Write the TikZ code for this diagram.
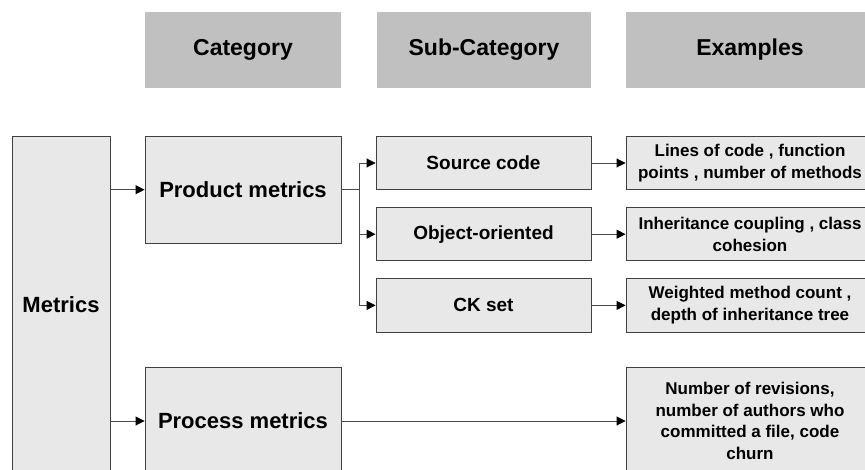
\documentclass[tikz,border=0pt]{standalone}
\usepackage{fontspec}
\setmainfont{Liberation Sans}
\usetikzlibrary{arrows.meta}
\definecolor{hdrfill}{HTML}{C0C0C0}
\definecolor{boxfill}{HTML}{E8E8E8}
\definecolor{boxline}{HTML}{404040}
\definecolor{conn}{HTML}{4A4A4A}
\tikzset{
  hdr/.style={fill=hdrfill, draw=none, inner sep=0pt, minimum height=76pt,
    font=\fontsize{23}{27}\selectfont\bfseries},
  catbox/.style={fill=boxfill, draw=boxline, line width=0.9pt, inner sep=0pt,
    font=\fontsize{22}{26}\selectfont\bfseries},
  subbox/.style={fill=boxfill, draw=boxline, line width=0.9pt, inner sep=0pt,
    minimum width=215pt, minimum height=53.5pt,
    font=\fontsize{19}{22}\selectfont\bfseries},
  exbox/.style={fill=boxfill, draw=boxline, line width=0.9pt, inner sep=0pt,
    minimum width=248pt, align=center,
    font=\fontsize{17}{21.7}\selectfont\bfseries},
  conn/.style={draw=conn, line width=0.9pt,
    -{Triangle[length=9pt,width=9pt,color=black]}},
  plain/.style={draw=conn, line width=0.9pt}
}
\begin{document}
\begin{tikzpicture}[x=1pt,y=-1pt]
\useasboundingbox (0,0) rectangle (865,470);
\clip (0,0) rectangle (865,470);
% headers
\node[hdr, minimum width=196pt] (hcat) at (243,50) {Category};
\node[hdr, minimum width=214pt] (hsub) at (484,50) {Sub-Category};
\node[hdr, minimum width=248pt] (hex) at (750,50) {Examples};
% category column
\node[catbox, minimum width=98pt, minimum height=338pt] (metrics) at (61,305) {Metrics};
\node[catbox, minimum width=196pt, minimum height=107pt] (prod) at (243,189.7) {Product metrics};
\node[catbox, minimum width=196pt, minimum height=106.6pt] (proc) at (243,421) {Process metrics};
% sub-category column
\node[subbox] (src) at (483.5,163) {Source code};
\node[subbox] (oo) at (483.5,234.2) {Object-oriented};
\node[subbox] (ck) at (483.5,305.4) {CK set};
% examples column
\node[exbox, minimum height=53.5pt] (ex1) at (750,163) {Lines of code , function\\points , number of methods};
\node[exbox, minimum height=53.5pt] (ex2) at (750,234.2) {Inheritance coupling , class\\cohesion};
\node[exbox, minimum height=53.5pt] (ex3) at (750,305.4) {Weighted method count ,\\depth of inheritance tree};
\node[exbox, minimum height=106.6pt] (ex4) at (750,421) {Number of revisions,\\number of authors who\\committed a file, code\\churn};
% connectors
\draw[conn] (metrics.east |- prod.west) -- (prod.west);
\draw[conn] (metrics.east |- proc.west) -- (proc.west);
\coordinate (junc) at (359,189.7);
\draw[plain] (prod.east) -- (junc);
\draw[conn] (junc) |- (src.west);
\draw[conn] (junc) |- (oo.west);
\draw[conn] (junc) |- (ck.west);
\draw[conn] (src.east) -- (ex1.west);
\draw[conn] (oo.east) -- (ex2.west);
\draw[conn] (ck.east) -- (ex3.west);
\draw[conn] (proc.east) -- (ex4.west);
\end{tikzpicture}
\end{document}
